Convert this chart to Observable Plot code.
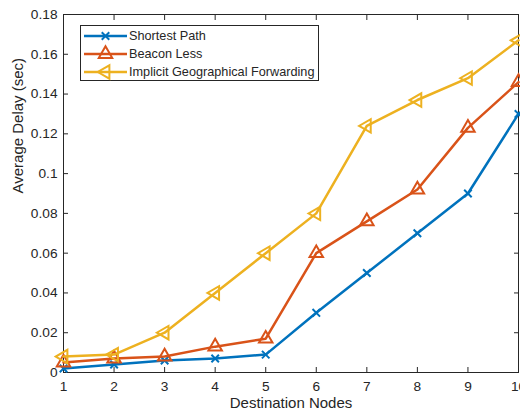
<!DOCTYPE html>
<html><head><meta charset="utf-8">
<script src="https://cdn.jsdelivr.net/npm/d3@7"></script>
<script src="https://cdn.jsdelivr.net/npm/@observablehq/plot@0.6"></script>
<style>
body{margin:0;background:#fff;font-family:"Liberation Sans",Arial,sans-serif;}
#wrap{position:relative;width:520px;height:416px;overflow:hidden;}
#legend{position:absolute;left:80px;top:25px;}
</style></head><body><div id="wrap"></div>
<script>
const nodes = [1, 2, 3, 4, 5, 6, 7, 8, 9, 10];
const shortestPath = [0.002, 0.004, 0.006, 0.007, 0.009, 0.030, 0.050, 0.070, 0.090, 0.130];
const beaconLess = [0.005, 0.007, 0.008, 0.013, 0.017, 0.060, 0.076, 0.092, 0.123, 0.146];
const implicitGeo = [0.008, 0.009, 0.020, 0.040, 0.060, 0.080, 0.124, 0.137, 0.148, 0.167];
const seriesNames = ["Shortest Path", "Beacon Less", "Implicit Geographical Forwarding"];
const seriesColors = ["#0072BD", "#D95319", "#EDB120"];
const yTicks = [0, 0.02, 0.04, 0.06, 0.08, 0.1, 0.12, 0.14, 0.16, 0.18];
const yTickLabels = ["0", "0.02", "0.04", "0.06", "0.08", "0.1", "0.12", "0.14", "0.16", "0.18"];
const xLabel = "Destination Nodes";
const yLabel = "Average Delay (sec)";

const seriesValues = [shortestPath, beaconLess, implicitGeo];
const data = seriesNames.flatMap((name, i) => nodes.map((n, j) => ({series: name, node: n, delay: seriesValues[i][j]})));

const triangleLeft = {
  draw(context, size) {
    const y = -Math.sqrt(size / (Math.sqrt(3) * 3));
    context.moveTo(2 * y, 0);
    context.lineTo(-y, -Math.sqrt(3) * y);
    context.lineTo(-y, Math.sqrt(3) * y);
    context.closePath();
  }
};
const symbols = ["times", "triangle", triangleLeft];
const ink = "#262626";
const font = '"Liberation Sans", Arial, sans-serif';

const plot = Plot.plot({
  width: 520, height: 416,
  marginLeft: 63, marginRight: 2, marginTop: 14, marginBottom: 44,
  style: {fontFamily: font, fontSize: "13.7px", color: ink, background: "#fff"},
  x: {domain: [1, 10]},
  y: {domain: [0, 0.18]},
  color: {domain: seriesNames, range: seriesColors},
  marks: [
    Plot.axisX(nodes, {anchor: "bottom", tickSize: 0, tickPadding: 9, label: null, fontSize: 13.7}),
    Plot.axisX(nodes, {anchor: "bottom", tickSize: -5, tickFormat: () => "", label: null}),
    Plot.axisX(nodes, {anchor: "top", tickSize: -5, tickFormat: () => "", label: null}),
    Plot.axisY(yTicks, {anchor: "left", tickSize: 0, tickPadding: 6, tickFormat: (d, i) => yTickLabels[i], label: null, fontSize: 13.7}),
    Plot.axisY(yTicks, {anchor: "left", tickSize: -5, tickFormat: () => "", label: null}),
    Plot.axisY(yTicks, {anchor: "right", tickSize: -5, tickFormat: () => "", label: null}),
    Plot.text([xLabel], {frameAnchor: "bottom", dy: 35, fontSize: 15, fill: ink}),
    Plot.text([yLabel], {frameAnchor: "left", rotate: -90, dx: -45, fontSize: 15, fill: ink}),
    Plot.frame({stroke: ink, strokeWidth: 1}),
    ...seriesNames.flatMap((name, i) => {
      const d = data.filter(r => r.series === name);
      return [
        Plot.line(d, {x: "node", y: "delay", stroke: "series", strokeWidth: 2.5}),
        Plot.dot(d, {x: "node", y: "delay", stroke: "series", fill: "none", symbol: symbols[i], r: i === 0 ? 3.5 : 5, strokeWidth: 2})
      ];
    })
  ]
});
const wrap = document.getElementById("wrap");
wrap.appendChild(plot);

// legend overlay
const NS = "http://www.w3.org/2000/svg";
const lg = document.createElementNS(NS, "svg");
lg.setAttribute("id", "legend");
lg.setAttribute("width", 240); lg.setAttribute("height", 57);
const box = document.createElementNS(NS, "rect");
box.setAttribute("x", 0.5); box.setAttribute("y", 0.5); box.setAttribute("width", 238); box.setAttribute("height", 55);
box.setAttribute("fill", "#fff"); box.setAttribute("stroke", ink);
lg.appendChild(box);
const symPaths = [d3.symbol(d3.symbolTimes, 3.5 * 3.5 * Math.PI)(), d3.symbol(d3.symbolTriangle, 25 * Math.PI)(), d3.symbol(triangleLeft, 25 * Math.PI)()];
seriesNames.forEach((name, i) => {
  const cy = 11 + 18 * i;
  const ln = document.createElementNS(NS, "line");
  ln.setAttribute("x1", 4); ln.setAttribute("x2", 47); ln.setAttribute("y1", cy); ln.setAttribute("y2", cy);
  ln.setAttribute("stroke", seriesColors[i]); ln.setAttribute("stroke-width", 2.5);
  lg.appendChild(ln);
  const p = document.createElementNS(NS, "path");
  p.setAttribute("d", symPaths[i]); p.setAttribute("transform", `translate(25.5,${cy})`);
  p.setAttribute("fill", "none"); p.setAttribute("stroke", seriesColors[i]); p.setAttribute("stroke-width", 2);
  lg.appendChild(p);
  const t = document.createElementNS(NS, "text");
  t.setAttribute("x", 49); t.setAttribute("y", cy); t.setAttribute("dy", "0.35em");
  t.setAttribute("font-size", 12.7); t.setAttribute("fill", ink);
  t.setAttribute("font-family", font);
  t.textContent = name;
  lg.appendChild(t);
});
wrap.appendChild(lg);
</script>
</body></html>
